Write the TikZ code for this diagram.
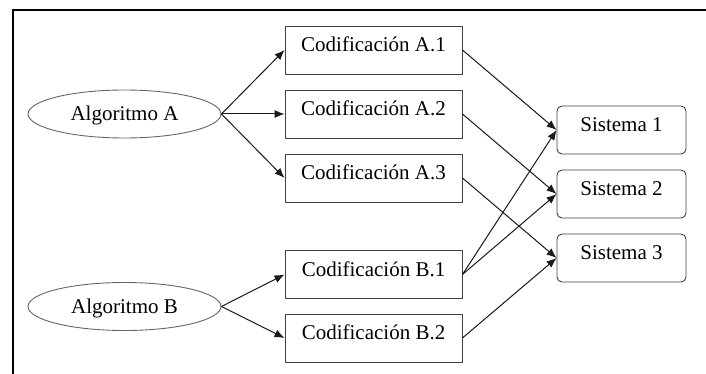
\documentclass[tikz,border=0pt]{standalone}
\usepackage{fontspec}
\setmainfont{Liberation Serif}
\usetikzlibrary{arrows.meta,shapes.geometric}
\begin{document}
\begin{tikzpicture}[x=1pt,y=-1pt,
  box/.style={draw=black!75, line width=0.9pt, minimum width=177pt, minimum height=48pt, inner sep=0pt},
  sys/.style={box, rounded corners=5pt, minimum width=129pt},
  alg/.style={ellipse, draw=black!60, line width=0.9pt, minimum width=193pt, minimum height=48pt, inner sep=0pt},
  lbl/.style={font=\fontsize{21}{25}\selectfont, anchor=base, inner sep=0pt},
  conn/.style={draw=black!90, line width=1pt, -{Latex[length=10pt,width=8pt]}}]
\useasboundingbox (0,0) rectangle (706,374);
\draw[line width=2pt] (13,374) -- (13,10) -- (706,10);

\node[alg] (EA) at (124.5,114) {};
\node[alg] (EB) at (124.5,306.5) {};
\node[lbl] (tEA) at ([yshift=-7pt]EA.center) {Algoritmo A};
\node[lbl] (tEB) at ([yshift=-7pt]EB.center) {Algoritmo B};

\node[box] (A1) at (373.5,50) {};
\node[box] (A2) at (373.5,114) {};
\node[box] (A3) at (373.5,178) {};
\node[box] (B1) at (373.5,274.5) {};
\node[box] (B2) at (373.5,338) {};
\node[lbl] (tA1) at ([yshift=-26pt]A1.north) {Codificación A.1};
\node[lbl] (tA2) at ([yshift=-26pt]A2.north) {Codificación A.2};
\node[lbl] (tA3) at ([yshift=-26pt]A3.north) {Codificación A.3};
\node[lbl] (tB1) at ([yshift=-26pt]B1.north) {Codificación B.1};
\node[lbl] (tB2) at ([yshift=-26pt]B2.north) {Codificación B.2};

\node[sys] (S1) at (621.5,130) {};
\node[sys] (S2) at (621.5,194) {};
\node[sys] (S3) at (621.5,258) {};
\node[lbl] (tS1) at ([yshift=-26pt]S1.north) {Sistema 1};
\node[lbl] (tS2) at ([yshift=-26pt]S2.north) {Sistema 2};
\node[lbl] (tS3) at ([yshift=-26pt]S3.north) {Sistema 3};

\draw[conn] (EA.east) -- (A1.west);
\draw[conn] (EA.east) -- (A2.west);
\draw[conn] (EA.east) -- (A3.west);
\draw[conn] (EB.east) -- (B1.west);
\draw[conn] (EB.east) -- (B2.west);

\draw[conn] (A1.east) -- (S1.west);
\draw[conn] (A2.east) -- (S2.west);
\draw[conn] (A3.east) -- (S3.west);
\draw[conn] (B1.east) -- (S1.west);
\draw[conn] (B1.east) -- (S2.west);
\draw[conn] (B2.east) -- (S3.west);
\end{tikzpicture}
\end{document}
